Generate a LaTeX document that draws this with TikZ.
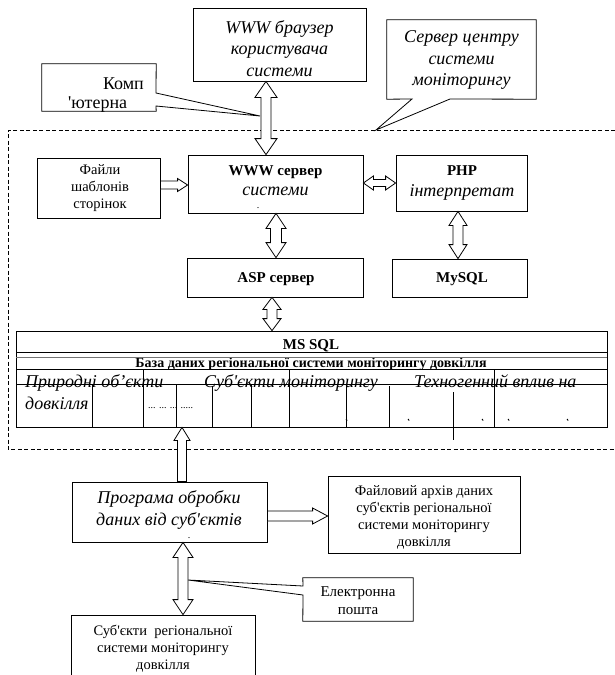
\documentclass[tikz,border=0pt]{standalone}
\usepackage{fontspec}
\setmainfont{Liberation Serif}[Ligatures=TeXOff]
\usetikzlibrary{calc,fit}

\tikzset{
  box/.style={draw, line width=0.8pt, fill=white, inner sep=0pt},
  thinline/.style={line width=0.8pt},
  blk/.style={draw, fill=white, line width=0.8pt, line join=miter},
  frame/.style={line width=0.8pt, dash pattern=on 4pt off 2.5pt},
  itl/.style={font=\fontsize{18}{21.5}\selectfont\itshape, align=center, inner sep=0pt},
  bld/.style={font=\fontsize{15}{18}\selectfont\bfseries, align=center, inner sep=0pt},
  reg/.style={font=\fontsize{14.5}{17}\selectfont, align=center, inner sep=0pt},
  big/.style={font=\fontsize{18}{21.5}\selectfont, inner sep=0pt},
}

% hollow block arrow with heads at both ends: #1,#2 end points,
% #3 head length, #4 head half width, #5 shaft half width
\newcommand\dblarrow[5]{%
  \draw[blk] let \p1=(#1), \p2=(#2), \n1={atan2(\y2-\y1,\x2-\x1)} in
    (\p1) -- ($(\p1)+(\n1:#3)+(\n1+90:#4)$) -- ($(\p1)+(\n1:#3)+(\n1+90:#5)$)
    -- ($(\p2)+(\n1+180:#3)+(\n1+90:#5)$) -- ($(\p2)+(\n1+180:#3)+(\n1+90:#4)$)
    -- (\p2) -- ($(\p2)+(\n1+180:#3)+(\n1-90:#4)$) -- ($(\p2)+(\n1+180:#3)+(\n1-90:#5)$)
    -- ($(\p1)+(\n1:#3)+(\n1-90:#5)$) -- ($(\p1)+(\n1:#3)+(\n1-90:#4)$) -- cycle;}
% hollow block arrow with one head: #1 tail, #2 tip
\newcommand\onearrow[5]{%
  \draw[blk] let \p1=(#1), \p2=(#2), \n1={atan2(\y2-\y1,\x2-\x1)} in
    ($(\p1)+(\n1+90:#5)$) -- ($(\p2)+(\n1+180:#3)+(\n1+90:#5)$)
    -- ($(\p2)+(\n1+180:#3)+(\n1+90:#4)$) -- (\p2)
    -- ($(\p2)+(\n1+180:#3)+(\n1-90:#4)$) -- ($(\p2)+(\n1+180:#3)+(\n1-90:#5)$)
    -- ($(\p1)+(\n1-90:#5)$) -- cycle;}

\begin{document}
\begin{tikzpicture}[x=1pt, y=-1pt]
\useasboundingbox (0,0) rectangle (615,675);

% dashed frame of the monitoring centre server
\draw[frame] (615,130) -- (8,130) -- (8,449) -- (615,449);

% ---------- boxes ----------
\node[box, fit={(193,8) (366,81)}] (browser) {};
\node[itl] (browsertxt) at (279.5,48.5) {WWW браузер\\користувача\\системи};

\node[box, fit={(37,158) (160,218)}] (files) {};
\node[reg] (filestxt) at (100,188.5) {Файли\\шаблонів\\сторінок};

\node[box, fit={(188,155) (363,213)}] (www) {};
\node[bld, anchor=base] (wwwa) at (275.5,175) {WWW сервер};
\node[itl, anchor=base] (wwwb) at (275.5,195.5) {системи};
\node[inner sep=0pt, font=\fontsize{10}{10}\selectfont, anchor=base] (wwwdot) at (258,208) {.};

\node[box, fit={(396,155) (527,211)}] (php) {};
\node[bld, anchor=base] (phpa) at (462,175) {PHP};
\node[itl, anchor=base] (phpb) at (462,196) {інтерпретат};

\node[box, fit={(187,258) (363,297)}] (asp) {};
\node[bld, anchor=base] (asptxt) at (276,282) {ASP сервер};

\node[box, fit={(392,259) (527,297)}] (mysql) {};
\node[bld, anchor=base] (mysqltxt) at (462,282) {MySQL};

% ---------- database table ----------
\node[box, fit={(16,331) (607,427)}] (tbl) {};
\node[bld, anchor=base] (mssql) at (311,349) {MS SQL};
\node[font=\fontsize{14}{16}\selectfont\bfseries, inner sep=0pt, anchor=base] (dbname) at (311,367)
  {База даних регіональної системи моніторингу довкілля};
\node[itl, anchor=base west] (col1) at (25,387) {Природні об’єкти};
\node[itl, anchor=base west] (col1b) at (25,409) {довкілля};
\node[itl, anchor=base west] (col2) at (204,387) {Суб'єкти моніторингу};
\node[itl, anchor=base west] (col3) at (414,387) {Техногенний вплив на};
\node[font=\fontsize{10}{10}\selectfont, inner sep=0pt, anchor=base west] (dots) at (148,408) {... ... ... .....};

\draw[thinline] (16,352) -- (607,352);
\draw[thinline, black!55] (16,357) -- (607,357);
\draw[thinline] (16,369) -- (607,369);
\draw[thinline] (16,384) -- (607,384);
\foreach \x/\t in {92/384, 143/369, 176/384, 212/386, 251/384, 289/369, 346/386, 389/386, 494/369}
  \draw[thinline] (\x,\t) -- (\x,427);
\draw[thinline] (453,392) -- (453,440);
\foreach \x in {346, 408, 482, 508, 567}
  \draw[line width=0.9pt] (\x,419) -- (\x+1.2,420.5);

% ---------- lower part ----------
\node[box, fit={(72,482) (267,542)}] (prog) {};
\node[itl] (progtxt) at (169,510) {Програма обробки\\даних від суб'єктів};
\node[inner sep=0pt, font=\fontsize{10}{10}\selectfont, anchor=base] (progdot) at (189,538) {.};

\node[box, fit={(328,476) (520,553)}] (arch) {};
\node[reg] (archtxt) at (424,517.5) {Файловий архів даних\\суб'єктів регіональної\\системи моніторингу\\довкілля};

\node[box, fit={(71,615) (255,690)}] (subj) {};
\node[reg] (subjtxt) at (163,648.5) {Суб'єкти\ \ регіональної\\системи моніторингу\\довкілля};

% ---------- callouts ----------
\node[inner sep=0pt, fit={(42,64) (156,111)}] (komp) {};
\coordinate (komptip) at (260,116);
\draw[thinline] (komp.north west) -- (komp.north east) -- (156,93) -- (komptip)
  -- (156,106) -- (komp.south east) -- (komp.south west) -- cycle;
\begin{scope}
  \clip (komp.north west) rectangle (komp.south east);
  \node[big, anchor=base east] (kompa) at (144,89) {Комп};
  \node[big, anchor=base west] (kompb) at (68,108.5) {'ютерна};
\end{scope}

\node[inner sep=0pt, fit={(387,20) (536,99)}] (centre) {};
\coordinate (centretip) at (376,130);
\draw[thinline] (centre.north west) -- (centre.north east) -- (centre.south east)
  -- (450,99) -- (centretip) -- (412,99) -- (centre.south west) -- cycle;
\node[itl] (centretxt) at (461.5,60) {Сервер центру\\системи\\моніторингу};

\node[inner sep=0pt, fit={(303,578) (413,621)}] (mail) {};
\coordinate (mailtip) at (188,580);
\draw[thinline] (mail.north west) -- (mail.north east) -- (mail.south east)
  -- (mail.south west) -- (303,595) -- (mailtip) -- (303,586) -- cycle;
\node[font=\fontsize{15}{18}\selectfont, align=center, inner sep=0pt] (mailtxt) at (358,601) {Електронна\\пошта};

% ---------- block arrows ----------
\dblarrow{266,0 |- browser.south}{266,0 |- www.north}{16pt}{11pt}{5pt}
\onearrow{files.east |- 0,185}{www.west |- 0,185}{10pt}{6.5pt}{4pt}
\dblarrow{www.east |- 0,183}{php.west |- 0,183}{10pt}{7pt}{3.5pt}
\dblarrow{276,0 |- www.south}{276,0 |- asp.north}{15pt}{10pt}{5.5pt}
\dblarrow{458,0 |- php.south}{458,0 |- mysql.north}{14pt}{9pt}{5pt}
\dblarrow{272,0 |- asp.south}{272,0 |- tbl.north}{12pt}{9pt}{5pt}
\onearrow{182,0 |- prog.north}{182,0 |- tbl.south}{13pt}{8pt}{4.5pt}
\onearrow{prog.east |- 0,516}{arch.west |- 0,516}{15pt}{8pt}{5pt}
\dblarrow{183,0 |- prog.south}{183,0 |- subj.north}{15pt}{10pt}{5pt}
\end{tikzpicture}
\end{document}
